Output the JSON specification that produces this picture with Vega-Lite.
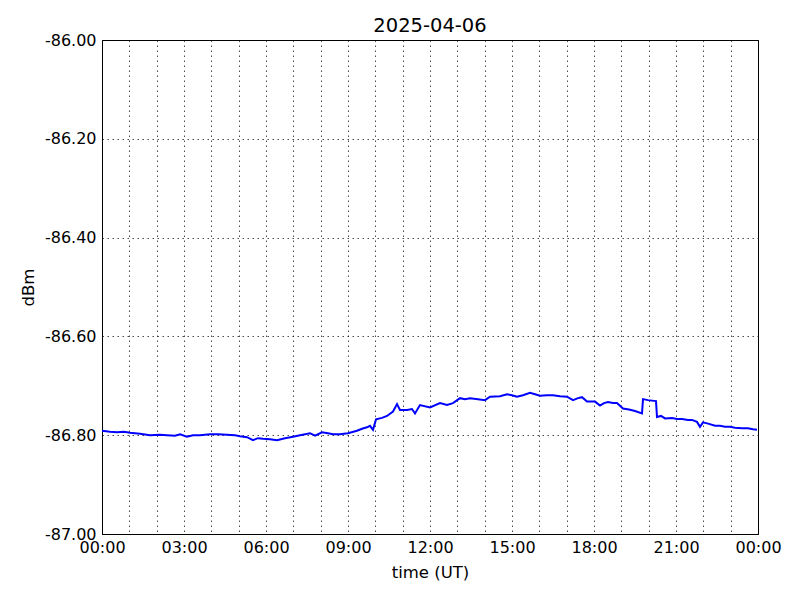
{
  "$schema": "https://vega.github.io/schema/vega-lite/v6.json",
  "width": 656,
  "height": 494,
  "autosize": {"type": "none"},
  "padding": {"left": 102, "top": 40, "right": 42, "bottom": 66},
  "background": "white",
  "title": {"text": "2025-04-06", "font": "DejaVu Sans", "fontSize": 19.5, "fontWeight": "normal", "color": "black", "offset": -4},
  "config": {
    "font": "DejaVu Sans",
    "view": {"stroke": "black", "strokeWidth": 1}
  },
  "data": {"values": [
    {"h": 0.000, "v": -86.791}, {"h": 0.293, "v": -86.793}, {"h": 0.549, "v": -86.794}, {"h": 0.805, "v": -86.793},
    {"h": 1.024, "v": -86.795}, {"h": 1.390, "v": -86.797}, {"h": 1.756, "v": -86.800}, {"h": 2.122, "v": -86.799},
    {"h": 2.378, "v": -86.800}, {"h": 2.671, "v": -86.801}, {"h": 2.854, "v": -86.798}, {"h": 3.110, "v": -86.803},
    {"h": 3.329, "v": -86.800}, {"h": 3.585, "v": -86.800}, {"h": 3.951, "v": -86.798}, {"h": 4.244, "v": -86.798},
    {"h": 4.573, "v": -86.799}, {"h": 4.866, "v": -86.800}, {"h": 5.049, "v": -86.802}, {"h": 5.305, "v": -86.804},
    {"h": 5.524, "v": -86.810}, {"h": 5.707, "v": -86.806}, {"h": 5.890, "v": -86.807}, {"h": 6.146, "v": -86.808},
    {"h": 6.402, "v": -86.810}, {"h": 6.695, "v": -86.806}, {"h": 6.988, "v": -86.803}, {"h": 7.244, "v": -86.800},
    {"h": 7.610, "v": -86.796}, {"h": 7.793, "v": -86.801}, {"h": 8.049, "v": -86.794}, {"h": 8.268, "v": -86.796},
    {"h": 8.451, "v": -86.798}, {"h": 8.707, "v": -86.798}, {"h": 9.000, "v": -86.796}, {"h": 9.329, "v": -86.791},
    {"h": 9.512, "v": -86.787}, {"h": 9.695, "v": -86.784}, {"h": 9.805, "v": -86.781}, {"h": 9.915, "v": -86.789},
    {"h": 10.024, "v": -86.768}, {"h": 10.244, "v": -86.765}, {"h": 10.427, "v": -86.761}, {"h": 10.646, "v": -86.752},
    {"h": 10.793, "v": -86.737}, {"h": 10.902, "v": -86.749}, {"h": 11.159, "v": -86.749}, {"h": 11.341, "v": -86.747},
    {"h": 11.451, "v": -86.756}, {"h": 11.634, "v": -86.739}, {"h": 12.000, "v": -86.744}, {"h": 12.366, "v": -86.735},
    {"h": 12.622, "v": -86.739}, {"h": 12.841, "v": -86.735}, {"h": 13.098, "v": -86.725}, {"h": 13.280, "v": -86.727},
    {"h": 13.463, "v": -86.725}, {"h": 13.756, "v": -86.727}, {"h": 14.012, "v": -86.729}, {"h": 14.195, "v": -86.722},
    {"h": 14.561, "v": -86.721}, {"h": 14.817, "v": -86.717}, {"h": 15.000, "v": -86.719}, {"h": 15.183, "v": -86.722},
    {"h": 15.402, "v": -86.719}, {"h": 15.659, "v": -86.714}, {"h": 15.841, "v": -86.717}, {"h": 16.024, "v": -86.720},
    {"h": 16.280, "v": -86.719}, {"h": 16.500, "v": -86.719}, {"h": 16.756, "v": -86.721}, {"h": 17.012, "v": -86.722},
    {"h": 17.232, "v": -86.729}, {"h": 17.415, "v": -86.725}, {"h": 17.561, "v": -86.723}, {"h": 17.744, "v": -86.732},
    {"h": 18.037, "v": -86.732}, {"h": 18.220, "v": -86.740}, {"h": 18.366, "v": -86.735}, {"h": 18.512, "v": -86.733},
    {"h": 18.695, "v": -86.735}, {"h": 18.841, "v": -86.735}, {"h": 19.061, "v": -86.746}, {"h": 19.280, "v": -86.748},
    {"h": 19.500, "v": -86.751}, {"h": 19.756, "v": -86.756}, {"h": 19.793, "v": -86.727}, {"h": 19.976, "v": -86.729},
    {"h": 20.122, "v": -86.730}, {"h": 20.268, "v": -86.731}, {"h": 20.305, "v": -86.763}, {"h": 20.451, "v": -86.761},
    {"h": 20.598, "v": -86.766}, {"h": 20.854, "v": -86.765}, {"h": 21.037, "v": -86.767}, {"h": 21.220, "v": -86.767},
    {"h": 21.439, "v": -86.769}, {"h": 21.585, "v": -86.769}, {"h": 21.768, "v": -86.773}, {"h": 21.878, "v": -86.783},
    {"h": 21.988, "v": -86.774}, {"h": 22.207, "v": -86.777}, {"h": 22.427, "v": -86.781}, {"h": 22.610, "v": -86.781},
    {"h": 22.793, "v": -86.783}, {"h": 22.976, "v": -86.783}, {"h": 23.159, "v": -86.785}, {"h": 23.415, "v": -86.786},
    {"h": 23.634, "v": -86.786}, {"h": 23.817, "v": -86.788}, {"h": 23.963, "v": -86.789}
  ]},
  "mark": {"type": "line", "color": "#0000ff", "strokeWidth": 2, "clip": true},
  "encoding": {
    "x": {
      "field": "h", "type": "quantitative",
      "scale": {"domain": [0, 24], "nice": false, "zero": false},
      "axis": {
        "title": "time (UT)", "titleFont": "DejaVu Sans", "titleFontSize": 16.5, "titleFontWeight": "normal", "titleColor": "black", "titlePadding": 9,
        "values": [0,1,2,3,4,5,6,7,8,9,10,11,12,13,14,15,16,17,18,19,20,21,22,23,24],
        "labelExpr": "datum.value % 3 == 0 ? ((datum.value % 24 < 10 ? '0' : '') + (datum.value % 24) + ':00') : ''",
        "labelFont": "DejaVu Sans", "labelFontSize": 16, "labelColor": "black", "labelPadding": 5, "labelFlush": false,
        "domainColor": "black", "tickColor": "black", "tickSize": 0,
        "grid": true, "gridColor": "black", "gridDash": [1.5, 3.5], "gridWidth": 0.7, "gridOpacity": 1
      }
    },
    "y": {
      "field": "v", "type": "quantitative",
      "scale": {"domain": [-87, -86], "nice": false, "zero": false},
      "axis": {
        "title": "dBm", "titleFont": "DejaVu Sans", "titleFontSize": 16.5, "titleFontWeight": "normal", "titleColor": "black", "titlePadding": 8,
        "values": [-87, -86.8, -86.6, -86.4, -86.2, -86],
        "labelExpr": "(datum.value < 0 ? '-' : '') + format(abs(datum.value), '.2f')",
        "labelFont": "DejaVu Sans", "labelFontSize": 16, "labelColor": "black", "labelPadding": 6, "labelFlush": false,
        "domainColor": "black", "tickColor": "black", "tickSize": 0,
        "grid": true, "gridColor": "black", "gridDash": [1.5, 3.5], "gridWidth": 0.7, "gridOpacity": 1
      }
    }
  }
}
